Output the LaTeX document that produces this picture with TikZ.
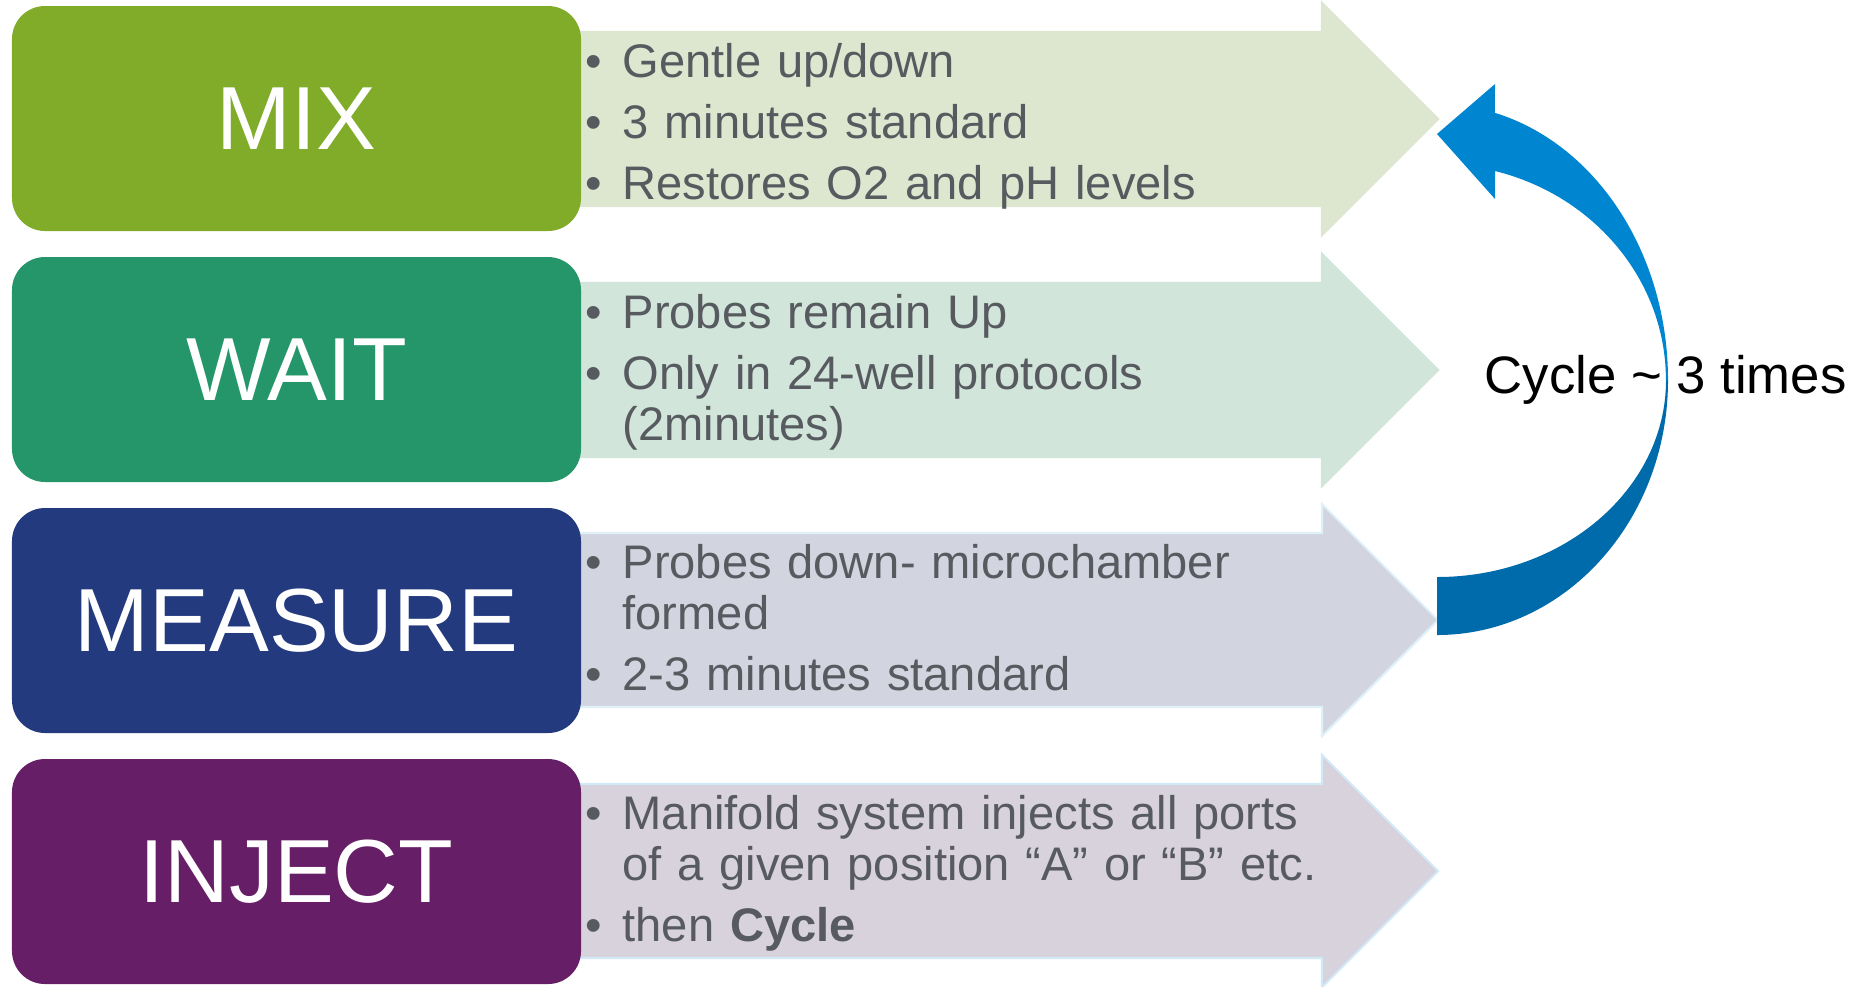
\documentclass[tikz,border=0pt]{standalone}
\usepackage{fontspec}
\setmainfont{Liberation Sans}
\usetikzlibrary{positioning}
\definecolor{MixGreen}{HTML}{80AC2A}
\definecolor{WaitGreen}{HTML}{25956A}
\definecolor{MeasureBlue}{HTML}{233A7E}
\definecolor{InjectPurple}{HTML}{661F66}
\definecolor{MixTint}{HTML}{DDE7D0}
\definecolor{WaitTint}{HTML}{D1E5DA}
\definecolor{MeasureTint}{HTML}{D2D5DF}
\definecolor{InjectTint}{HTML}{D7D2DC}
\definecolor{CycleLight}{HTML}{0086D1}
\definecolor{CycleDark}{HTML}{006BAA}
\definecolor{NoteGray}{HTML}{575A5F}
\newcommand{\stepitem}[1]{\par\hangindent=0.37cm\hangafter=1\noindent\makebox[0.37cm][l]{\textbullet}#1\par}

\begin{document}
\begin{tikzpicture}[
  stage/.style={rounded corners=0.33cm,minimum width=5.69cm,minimum height=2.25cm,
    inner sep=0pt,text=white,font=\fontsize{25.5}{30}\selectfont},
  band/.style={line width=0.6pt},
  notes/.style={anchor=north west,text width=8cm,align=left,inner sep=0pt,
    text=NoteGray,font=\fontsize{13.4}{14.5}\selectfont,
    execute at begin node={\setlength{\parskip}{2.9pt}}}
]
  \useasboundingbox (0,0) rectangle (18.63,-9.86);

  % broad arrows behind the notes
  \draw[band,fill=MixTint,draw=MixTint] (5.75,-0.32) -- (13.22,-0.32) -- (13.22,-0.03) -- (14.38,-1.19)
    -- (13.22,-2.35) -- (13.22,-2.06) -- (5.75,-2.06) -- cycle;
  \draw[band,fill=WaitTint,draw=WaitTint] (5.75,-2.83) -- (13.22,-2.83) -- (13.22,-2.54) -- (14.38,-3.70)
    -- (13.22,-4.86) -- (13.22,-4.57) -- (5.75,-4.57) -- cycle;
  \draw[band,fill=MeasureTint,draw=CycleLight!12] (5.75,-5.33) -- (13.22,-5.33) -- (13.22,-5.04) -- (14.38,-6.20)
    -- (13.22,-7.36) -- (13.22,-7.07) -- (5.75,-7.07) -- cycle;
  \draw[band,fill=InjectTint,draw=CycleLight!18] (5.75,-7.84) -- (13.22,-7.84) -- (13.22,-7.55) -- (14.38,-8.71)
    -- (13.22,-9.87) -- (13.22,-9.58) -- (5.75,-9.58) -- cycle;

  \node[stage,fill=MixGreen] (mix) at (2.965,-1.185) {MIX};
  \node[stage,fill=WaitGreen] (wait) at (2.965,-3.695) {WAIT};
  \node[stage,fill=MeasureBlue] (measure) at (2.965,-6.205) {MEASURE};
  \node[stage,fill=InjectPurple] (inject) at (2.965,-8.715) {INJECT};

  \node[notes] (mixnotes) at (5.85,-0.155)
    {\stepitem{Gentle up/down}\stepitem{3 minutes standard}\stepitem{Restores O2 and pH levels}};
  \node[notes] (waitnotes) at (5.85,-2.665)
    {\stepitem{Probes remain Up}\stepitem{Only in 24-well protocols\newline(2minutes)}};
  \node[notes] (measurenotes) at (5.85,-5.165)
    {\stepitem{Probes down- microchamber\newline formed}\stepitem{2-3 minutes standard}};
  \node[notes] (injectnotes) at (5.85,-7.675)
    {\stepitem{Manifold system injects all ports\newline of a given position “A” or “B” etc.}\stepitem{then \textbf{Cycle}}};

  % curved return arrow
  \fill[CycleDark] (14.37,-6.35) arc[start angle=-90,end angle=0,x radius=2.31,y radius=2.55]
    -- (16.66,-3.80) arc[start angle=0,end angle=-90,x radius=2.29,y radius=1.97] -- cycle;
  \fill[CycleLight] (16.68,-3.80) arc[start angle=0,end angle=75.5,x radius=2.31,y radius=2.76]
    -- (14.95,-0.84) -- (14.37,-1.34) -- (14.95,-1.99) -- (14.95,-1.71)
    arc[start angle=75.3,end angle=0,x radius=2.29,y radius=2.16] -- cycle;
  \node[anchor=base,inner sep=0pt,font=\fontsize{15}{18}\selectfont] (cycle) at (16.655,-3.93)
    {Cycle \textasciitilde{} 3 times};
\end{tikzpicture}
\end{document}
